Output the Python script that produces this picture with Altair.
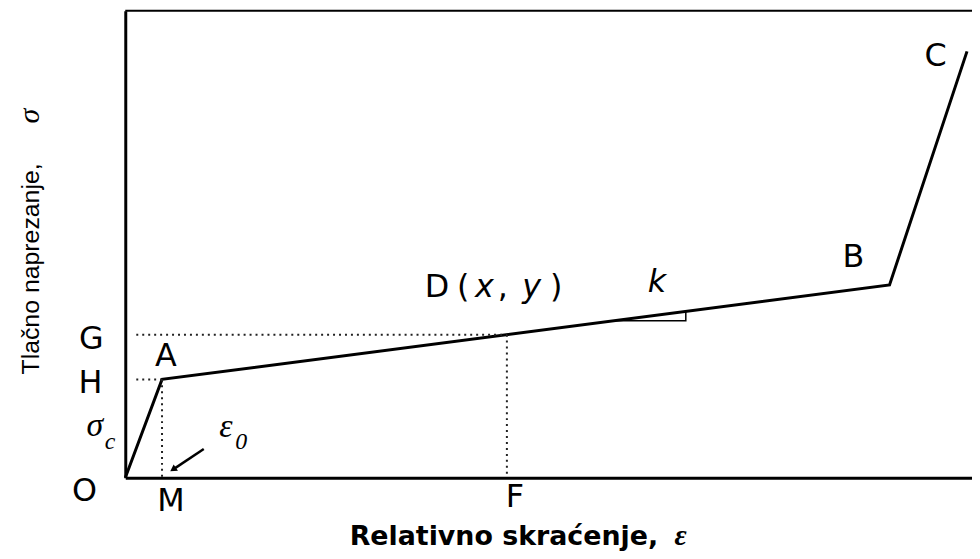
import altair as alt
import pandas as pd

# ---- data (units: x 0..100 relative strain, y 0..100 relative stress) ----
curve_pts = ["O", "A", "B", "C"]
curve_x = [0.0, 4.34, 90.26, 99.41]
curve_y = [0.0, 21.06, 41.28, 91.28]

D_x, D_y = 45.07, 30.64        # point D(x, y) on A-B
H_y = 21.06                    # stress at A
M_x = 4.34                     # strain at A (eps0)
dot_start = 1.3

# slope triangle k
k_x = [57.6, 66.2, 66.2]
k_y = [33.59, 33.59, 35.62]

# letter labels (sans)
lab_text = ["O", "M", "F", "G", "H", "A", "B", "C", "D", "(", ",", ")"]
lab_x = [-4.8, 5.4, 46.0, -4.0, -4.1, 4.8, 86.0, 95.7, 36.8, 39.9, 44.6, 50.9]
lab_y = [-4.89, -7.02, -6.17, 27.66, 18.09, 23.83, 45.11, 88.09, 38.7, 38.7, 38.7, 38.7]

# italic sans labels
it_text = ["x", "y", "k"]
it_x = [42.4, 48.0, 62.8]
it_y = [38.7, 38.7, 39.8]

# greek symbols (serif italic)
gr_text = ["σ", "ε"]
gr_x = [-3.6, 11.9]
gr_y = [8.94, 8.72]
sub_text = ["c", "0"]
sub_x = [-1.8, 13.7]
sub_y = [6.2, 6.17]

# arrow to eps0
arr_x = [9.27, 5.75]
arr_y = [6.17, 1.91]

xs = alt.Scale(domain=[0, 100], nice=False, zero=False)
ys = alt.Scale(domain=[0, 100], nice=False, zero=False)
ax_x = alt.Axis(labels=False, ticks=False, grid=False, title=None,
                domainWidth=3, domainColor="black")
ax_y = alt.Axis(labels=False, ticks=False, grid=False, title=None,
                domainWidth=3, domainColor="black")


def X(f="x:Q"):
    return alt.X(f, scale=xs, axis=ax_x)


def Y(f="y:Q"):
    return alt.Y(f, scale=ys, axis=ax_y)


curve_df = pd.DataFrame({"pt": curve_pts, "x": curve_x, "y": curve_y, "o": range(4)})
curve = alt.Chart(curve_df).mark_line(color="black", strokeWidth=3).encode(
    x=X(), y=Y(), order="o:O",
)

dot_df = pd.DataFrame({
    "seg": ["G", "G", "F", "F", "H", "H", "M", "M"],
    "x": [dot_start, D_x, D_x, D_x, dot_start, M_x, M_x, M_x],
    "y": [D_y, D_y, D_y, 0, H_y, H_y, H_y, 0],
    "o": [0, 1, 0, 1, 0, 1, 0, 1],
})
dots = alt.Chart(dot_df).mark_line(color="#222", strokeWidth=2, strokeDash=[2, 4]).encode(
    x=X(), y=Y(), detail="seg:N", order="o:O",
)

k_df = pd.DataFrame({"x": k_x, "y": k_y, "o": [0, 1, 2]})
ktri = alt.Chart(k_df).mark_line(color="black", strokeWidth=1.5).encode(
    x=X(), y=Y(), order="o:O",
)

top_df = pd.DataFrame({"x": [0], "x2": [100], "y": [100]})
top = alt.Chart(top_df).mark_rule(color="black", strokeWidth=2).encode(
    x=X(), x2="x2:Q", y=Y(),
)

arr_df = pd.DataFrame({"x": arr_x, "y": arr_y, "o": [0, 1]})
arrow_line = alt.Chart(arr_df).mark_line(color="black", strokeWidth=2.5).encode(
    x=X(), y=Y(), order="o:O",
)
head_df = arr_df.iloc[[1]]
arrow_head = alt.Chart(head_df).mark_point(shape="triangle", filled=True, color="black",
                                           size=60, angle=236, opacity=1).encode(
    x=X(), y=Y(),
)


def text_layer(texts, x, y, **kw):
    df = pd.DataFrame({"t": texts, "x": x, "y": y})
    return alt.Chart(df).mark_text(baseline="alphabetic", color="black", **kw).encode(
        x=X(), y=Y(), text="t:N",
    )


letters = text_layer(lab_text, lab_x, lab_y, font="DejaVu Sans", fontSize=32, align="center")
italics = text_layer(it_text, it_x, it_y, font="DejaVu Sans", fontSize=32,
                     fontStyle="oblique", align="center")
greek = text_layer(gr_text, gr_x, gr_y, font="Liberation Serif", fontSize=34,
                   fontStyle="italic", align="center")
subs = text_layer(sub_text, sub_x, sub_y, font="Liberation Serif", fontSize=24,
                  fontStyle="italic", align="center")

# axis titles
xt = text_layer(["Relativno skraćenje,"], [26.5], [-14.3], font="DejaVu Sans",
                fontSize=27, fontWeight="bold", align="left")
xt_eps = text_layer(["ε"], [65.6], [-14.3], font="Liberation Serif", fontSize=30,
                    fontStyle="italic", fontWeight="bold", align="center")
yt = text_layer(["Tlačno naprezanje,"], [-10.2], [22.1], font="Liberation Sans",
                fontSize=25, angle=270, align="left")
yt_sig = text_layer(["σ"], [-10.2], [77.4], font="Liberation Serif", fontSize=30,
                    fontStyle="italic", angle=270, align="center")

chart = alt.layer(
    curve, top, dots, ktri, arrow_line, arrow_head,
    letters, italics, greek, subs, xt, xt_eps, yt, yt_sig,
).properties(
    width=852, height=470,
    autosize=alt.AutoSizeParams(type="none"),
    padding={"left": 118, "top": 1, "right": 0, "bottom": 72},
    background="white",
).configure_view(stroke=None)

chart.save("out.html", embed_options={"renderer": "svg", "actions": False})
